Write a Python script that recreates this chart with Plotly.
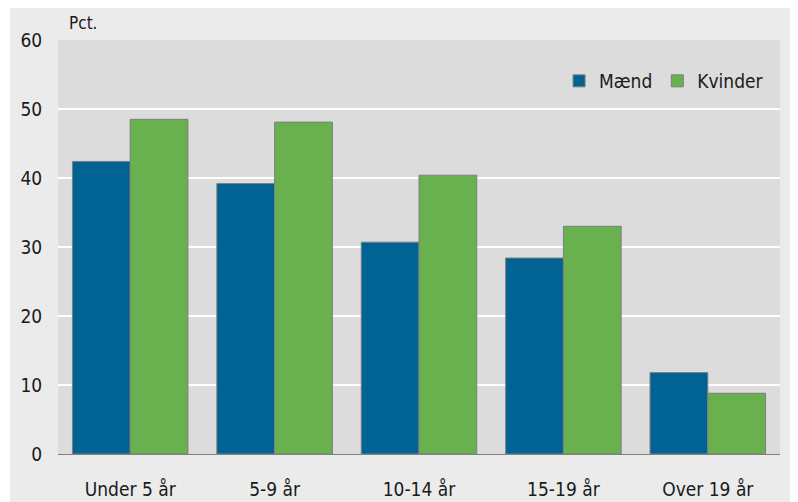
import plotly.graph_objects as go

categories = ["Under 5 år", "5-9 år", "10-14 år", "15-19 år", "Over 19 år"]
maend = [42.4, 39.2, 30.7, 28.4, 11.8]
kvinder = [48.5, 48.1, 40.4, 33.0, 8.8]
y_ticks = [0, 10, 20, 30, 40, 50, 60]

FONT = "Liberation Sans Narrow, DejaVu Sans Condensed, Arial Narrow, sans-serif"

fig = go.Figure()
fig.add_trace(go.Bar(name="Mænd", x=categories, y=maend,
                     marker=dict(color="#006394", line=dict(color="#7f7f7f", width=1))))
fig.add_trace(go.Bar(name="Kvinder", x=categories, y=kvinder,
                     marker=dict(color="#69b04f", line=dict(color="#7f7f7f", width=1))))

fig.update_layout(
    width=790, height=494,
    margin=dict(l=50, r=18, t=32, b=48, pad=0, autoexpand=False),
    paper_bgcolor="#ebebeb",
    plot_bgcolor="#dcdcdc",
    font=dict(family=FONT, size=19, color="#1a1a1a"),
    barmode="group",
    bargap=0.2,
    bargroupgap=0,
    showlegend=True,
    legend=dict(orientation="h", x=0.694, xanchor="left", y=0.901, yanchor="middle",
                bgcolor="rgba(0,0,0,0)", font=dict(size=19), itemwidth=30,
                traceorder="normal"),
    xaxis=dict(showgrid=False, showline=True, linecolor="#808080", linewidth=1,
               ticks="outside", ticklen=18, tickcolor="rgba(0,0,0,0)",
               tickfont=dict(size=19), automargin=False),
    yaxis=dict(range=[0, 60], tickvals=y_ticks, showgrid=True, gridcolor="#ffffff",
               gridwidth=2, zeroline=False, showline=False,
               ticks="outside", ticklen=11, tickcolor="rgba(0,0,0,0)",
               tickfont=dict(size=19), automargin=False),
    annotations=[dict(text="Pct.", xref="paper", yref="paper", x=0.0125, y=1.041,
                      xanchor="left", yanchor="middle", showarrow=False,
                      font=dict(size=17))],
    shapes=[
        dict(type="rect", xref="paper", yref="paper", x0=-0.1, x1=(2 - 50) / 722,
             y0=-0.2, y1=1.12, fillcolor="#ffffff", line=dict(width=0),
             layer="below"),
    ],
)

fig.write_html("out.html")
